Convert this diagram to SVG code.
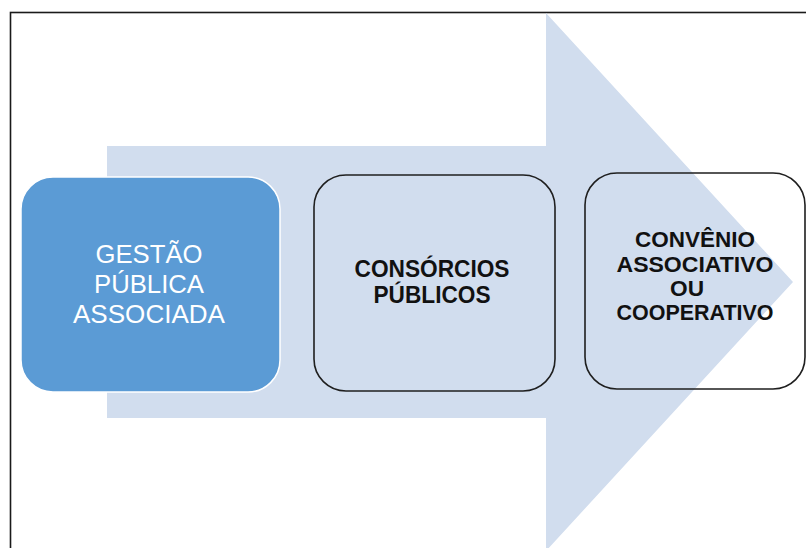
<svg xmlns="http://www.w3.org/2000/svg" width="806" height="548" viewBox="0 0 806 548">
<style>
.frame{fill:#ffffff;stroke:#1a1a1a;stroke-width:1.6}
.arrow{fill:#d1ddee}
.box{fill:none;stroke:#1f1f1f;stroke-width:1.6}
.blue{fill:#5b9bd5;stroke:#ffffff;stroke-width:1.5}
.wt{font-family:"Liberation Sans",Arial,sans-serif;font-size:26px;fill:#ffffff;text-anchor:middle}
.bt{font-family:"Liberation Sans",Arial,sans-serif;font-size:24px;font-weight:bold;fill:#111111;text-anchor:middle}
.bt3{font-family:"Liberation Sans",Arial,sans-serif;font-size:22px;font-weight:bold;fill:#111111;text-anchor:middle}
</style>
<rect class="frame" x="10.5" y="12.5" width="900" height="600"/>
<g id="arrow">
<polygon class="arrow" points="107,146 546,146 546,13 793,282 546,551 546,418 107,418"/>
</g>
<g id="node-gestao">
<rect class="blue" x="21" y="177" width="259" height="215" rx="32" ry="32"/>
<text class="wt"><tspan x="149" y="263" textLength="107" lengthAdjust="spacingAndGlyphs">GESTÃO</tspan><tspan x="149" y="293" textLength="110" lengthAdjust="spacingAndGlyphs">PÚBLICA</tspan><tspan x="149" y="323" textLength="152" lengthAdjust="spacingAndGlyphs">ASSOCIADA</tspan></text>
</g>
<g id="node-consorcios">
<rect class="box" x="314" y="175" width="241" height="216" rx="32" ry="32"/>
<text class="bt"><tspan x="432" y="277" textLength="155" lengthAdjust="spacingAndGlyphs">CONSÓRCIOS</tspan><tspan x="432" y="303" textLength="117" lengthAdjust="spacingAndGlyphs">PÚBLICOS</tspan></text>
</g>
<g id="node-convenio">
<rect class="box" x="585" y="173" width="220" height="216" rx="32" ry="32"/>
<text class="bt3"><tspan x="695" y="247" textLength="120" lengthAdjust="spacingAndGlyphs">CONVÊNIO</tspan><tspan x="695" y="272" textLength="157" lengthAdjust="spacingAndGlyphs">ASSOCIATIVO</tspan><tspan x="687" y="296" textLength="34" lengthAdjust="spacingAndGlyphs">OU</tspan><tspan x="695" y="320" textLength="157" lengthAdjust="spacingAndGlyphs">COOPERATIVO</tspan></text>
</g>
<g id="connectors"></g>
</svg>
